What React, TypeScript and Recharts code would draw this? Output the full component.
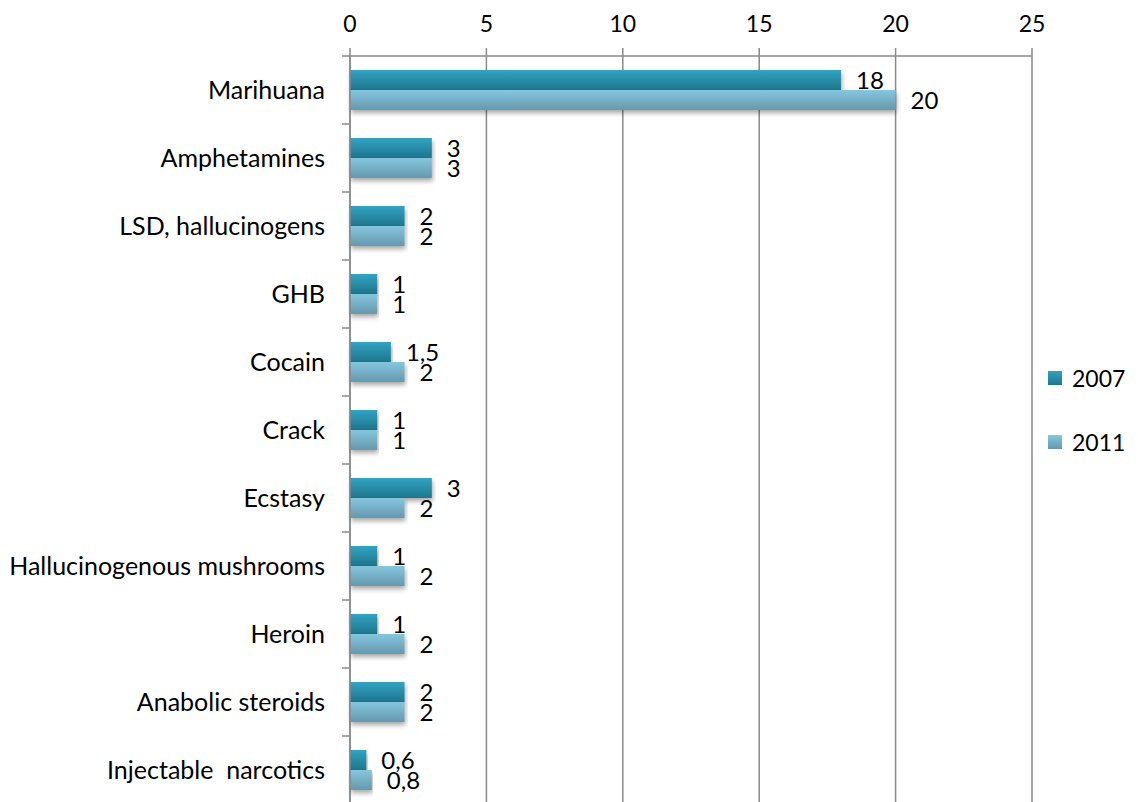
import {
  BarChart,
  Bar,
  XAxis,
  YAxis,
  CartesianGrid,
  LabelList,
} from "recharts";

const categories = [
  "Marihuana",
  "Amphetamines",
  "LSD, hallucinogens",
  "GHB",
  "Cocain",
  "Crack",
  "Ecstasy",
  "Hallucinogenous mushrooms",
  "Heroin",
  "Anabolic steroids",
  "Injectable  narcotics",
];
const values2007 = [18, 3, 2, 1, 1.5, 1, 3, 1, 1, 2, 0.6];
const values2011 = [20, 3, 2, 1, 2, 1, 2, 2, 2, 2, 0.8];
const xTicks = [0, 5, 10, 15, 20, 25];
const seriesNames = ["2007", "2011"];

const data = categories.map((name, i) => ({
  name,
  y2007: values2007[i],
  y2011: values2011[i],
}));

const GRID = "#8a8a8a";
const FONT = "Lato, 'Open Sans', sans-serif";

const fmt = (v: number) => String(v).replace(".", ",");

function CatTick(props: any) {
  const { x, y, payload } = props;
  const half = payload?.offset ?? 34;
  // x is the label anchor; axis line sits 8 (tick) + 17 (margin) to the right
  return (
    <g>
      <line x1={x + 17} x2={x + 25} y1={y - half} y2={y - half} stroke={GRID} strokeWidth={1.5} />
      <text
        x={x}
        y={y}
        dy="0.35em"
        textAnchor="end"
        fill="#000"
        fontSize={25}
        style={{ whiteSpace: "pre" }}
      >
        {payload.value}
      </text>
    </g>
  );
}

function ShadowBar(props: any) {
  const { x, y, width, height, fill } = props;
  if (!width || width <= 0) return null;
  return <rect x={x} y={y} width={width} height={height} fill={fill} filter="url(#barShadow)" />;
}

function LegendBox() {
  const grads = ["url(#g2007)", "url(#g2011)"];
  return (
    <div
      style={{
        position: "absolute",
        left: 1048,
        top: 363,
        fontFamily: FONT,
        fontSize: 23,
        color: "#000",
      }}
    >
      {seriesNames.map((label, i) => (
        <div
          key={label}
          style={{ display: "flex", alignItems: "center", height: 30, marginTop: i ? 34 : 0 }}
        >
          <svg width={14} height={14} style={{ marginRight: 10 }}>
            <rect width={14} height={14} fill={grads[i]} />
          </svg>
          <span>{label}</span>
        </div>
      ))}
    </div>
  );
}

export default function App() {
  return (
    <div style={{ position: "absolute", left: 0, top: 0, fontFamily: FONT, background: "#fff" }}>
      <BarChart
        width={1138}
        height={806}
        data={data}
        layout="vertical"
        margin={{ top: 0, right: 106, bottom: 2, left: 0 }}
        barCategoryGap={14}
        barGap={0}
      >
        <defs>
          <linearGradient id="g2007" x1="0" y1="0" x2="0" y2="1">
            <stop offset="0%" stopColor="#31a3c3" />
            <stop offset="100%" stopColor="#1f768c" />
          </linearGradient>
          <linearGradient id="g2011" x1="0" y1="0" x2="0" y2="1">
            <stop offset="0%" stopColor="#84c7df" />
            <stop offset="100%" stopColor="#6698ad" />
          </linearGradient>
          <filter id="barShadow" x="-5%" y="-30%" width="110%" height="180%">
            <feDropShadow dx="1" dy="3" stdDeviation="2.5" floodColor="#000" floodOpacity="0.35" />
          </filter>
        </defs>
        <CartesianGrid horizontal={false} stroke={GRID} strokeWidth={1.5} />
        <XAxis
          type="number"
          orientation="top"
          domain={[0, 25]}
          ticks={xTicks}
          height={56}
          tickSize={8}
          tickMargin={16}
          axisLine={{ stroke: GRID, strokeWidth: 1.5 }}
          tickLine={{ stroke: GRID, strokeWidth: 1.5 }}
          tick={{ fill: "#000", fontSize: 23 }}
        />
        <YAxis
          type="category"
          dataKey="name"
          width={350}
          tickSize={8}
          tickMargin={17}
          tickLine={false}
          axisLine={{ stroke: GRID, strokeWidth: 1.5 }}
          tick={<CatTick />}
          interval={0}
        />
        <Bar
          dataKey="y2007"
          name={seriesNames[0]}
          fill="url(#g2007)"
          shape={<ShadowBar />}
          isAnimationActive={false}
        >
          <LabelList
            dataKey="y2007"
            position="right"
            offset={15}
            formatter={(v: any) => fmt(v)}
            style={{ fill: "#000", fontSize: 24 }}
          />
        </Bar>
        <Bar
          dataKey="y2011"
          name={seriesNames[1]}
          fill="url(#g2011)"
          shape={<ShadowBar />}
          isAnimationActive={false}
        >
          <LabelList
            dataKey="y2011"
            position="right"
            offset={15}
            formatter={(v: any) => fmt(v)}
            style={{ fill: "#000", fontSize: 24 }}
          />
        </Bar>
      </BarChart>
      <LegendBox />
    </div>
  );
}
